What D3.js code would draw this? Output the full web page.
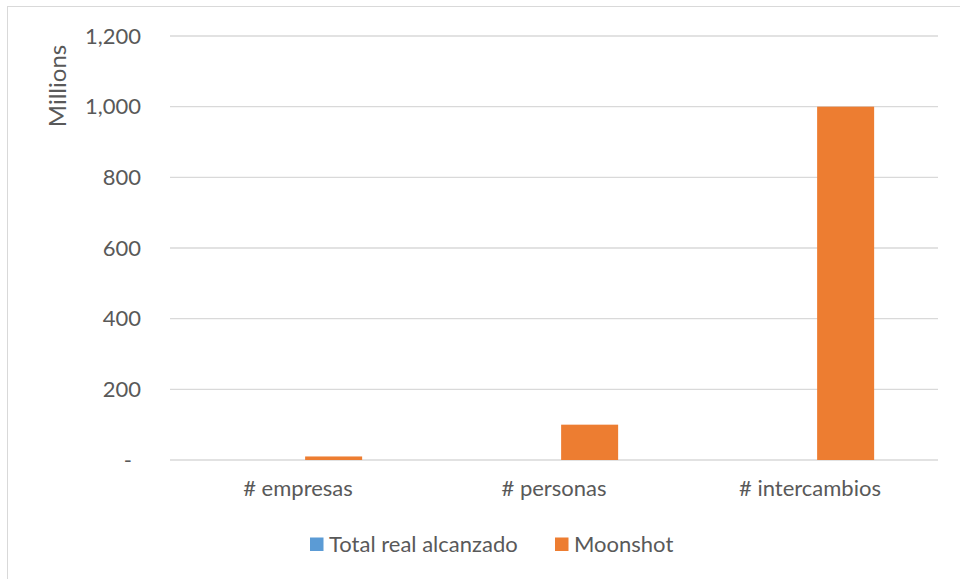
<!DOCTYPE html>
<html><head><meta charset="utf-8">
<script src="https://cdn.jsdelivr.net/npm/d3@7"></script>
<style>body{margin:0;background:#fff}svg{display:block}text{font-family:Lato,"DejaVu Sans",sans-serif;fill:#595959}</style>
</head><body>
<svg id="chart" width="960" height="579"></svg>
<script>
const categories = ["# empresas", "# personas", "# intercambios"];
const seriesNames = ["Total real alcanzado", "Moonshot"];
const totalReal = [0, 0, 0];
const moonshot = [10, 100, 1000];
const yTicks = [0, 200, 400, 600, 800, 1000, 1200];
const colors = ["#5B9BD5", "#ED7D31"];

const svg = d3.select("#chart");
const W = 960, H = 579;
const m = {left: 170, right: 22, top: 36, bottom: 119};
const pw = W - m.left - m.right, ph = H - m.top - m.bottom;

svg.append("rect").attr("x", 7.5).attr("y", 6.5).attr("width", 1000).attr("height", 1000)
  .attr("fill", "#fff").attr("stroke", "#D9D9D9").attr("stroke-width", 1);

const g = svg.append("g").attr("transform", `translate(${m.left},${m.top})`);
const x0 = d3.scaleBand().domain(categories).range([0, pw]).padding(0);
const y = d3.scaleLinear().domain([0, 1200]).range([ph, 0]);

// gridlines
g.selectAll("line.grid").data(yTicks).join("line")
  .attr("x1", 0).attr("x2", pw).attr("y1", d => y(d)).attr("y2", d => y(d))
  .attr("stroke", "#D9D9D9").attr("stroke-width", 1.3);

// y labels
const fmt = d => d === 0 ? "-" : d3.format(",")(d);
g.selectAll("text.yl").data(yTicks).join("text")
  .attr("x", d => d === 0 ? -38 : -29).attr("y", d => y(d)).attr("dy", "0.35em")
  .attr("text-anchor", "end").style("font-size", "22px").text(fmt);

// bars
const bw = x0.bandwidth();
const barW = bw * 0.2227, gap = barW * 0.25;
const x1 = d3.scaleBand().domain(seriesNames)
  .range([bw/2 - barW - gap/2, bw/2 + barW + gap/2]).paddingInner(gap / (barW + gap)).paddingOuter(0);
const data = [totalReal, moonshot];
seriesNames.forEach((s, si) => {
  g.append("g").selectAll("rect").data(categories).join("rect")
    .attr("x", c => x0(c) + x1(s)).attr("width", x1.bandwidth())
    .attr("y", (c, i) => y(data[si][i])).attr("height", (c, i) => y(0) - y(data[si][i]))
    .attr("fill", colors[si]);
});

// x labels
g.selectAll("text.xl").data(categories).join("text")
  .attr("x", c => x0(c) + bw/2).attr("y", 496 - m.top).attr("text-anchor", "middle")
  .style("font-size", "22px").text(d => d);

// Millions
svg.append("text").attr("transform", "translate(66,86) rotate(-90)").attr("text-anchor", "middle")
  .style("font-size", "24px").text("Millions");

// legend
const leg = svg.append("g");
const lx = [310, 555];
seriesNames.forEach((s, i) => {
  leg.append("rect").attr("x", lx[i]).attr("y", 537.5).attr("width", 13.5).attr("height", 13.5).attr("fill", colors[i]);
  leg.append("text").attr("x", lx[i] + 19).attr("y", 551.5).style("font-size", "22px").text(s);
});
</script>
</body></html>
